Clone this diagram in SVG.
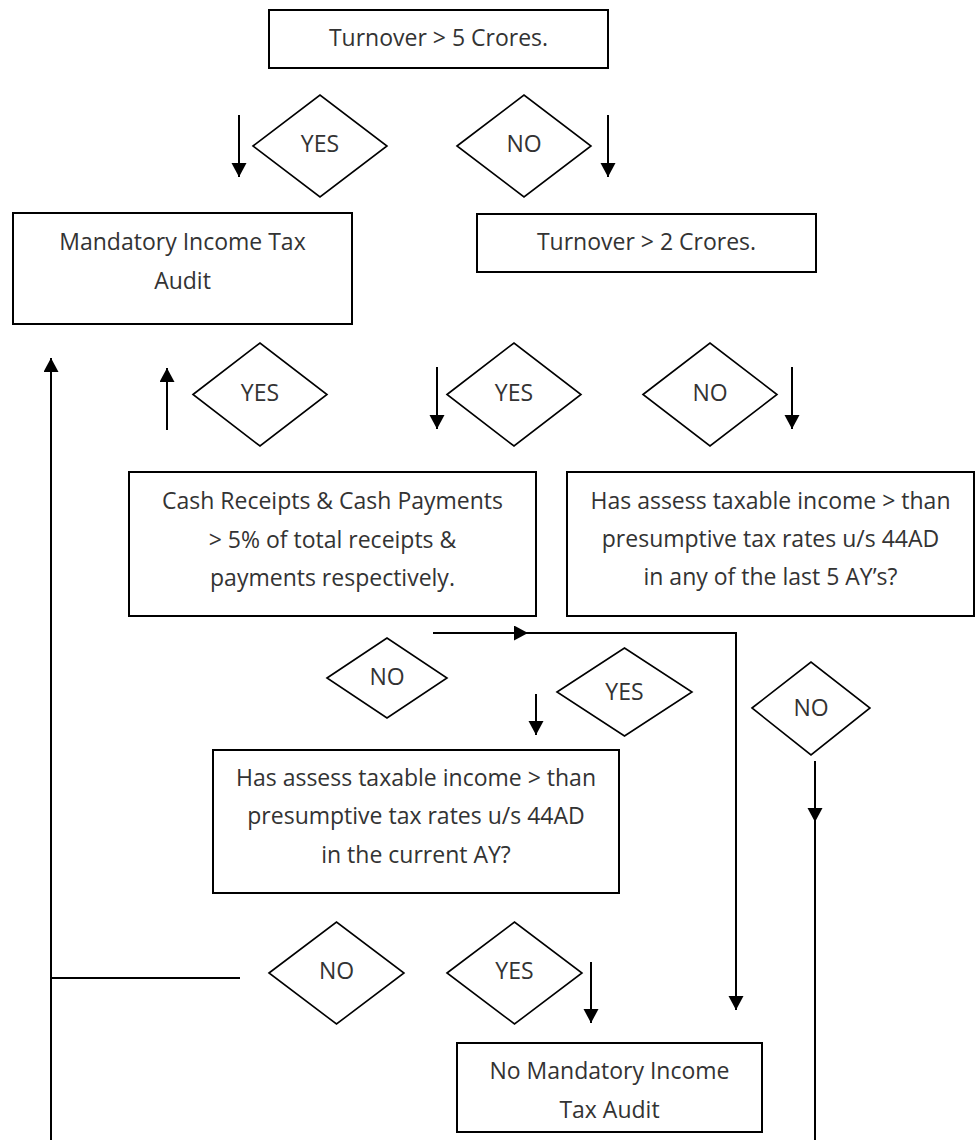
<svg xmlns="http://www.w3.org/2000/svg" width="980" height="1140" viewBox="0 0 980 1140">
<style>
.box{fill:#fff;stroke:#000;stroke-width:2}
.dia{fill:#fff;stroke:#000;stroke-width:1.6}
.t{font-family:"Open Sans","Liberation Sans",sans-serif;font-size:23px;fill:#333;text-anchor:middle}
.c{fill:none;stroke:#000;stroke-width:2}
</style>
<defs>
<marker id="ah" markerUnits="userSpaceOnUse" markerWidth="16" markerHeight="16" refX="14" refY="7.5" orient="auto" viewBox="0 0 16 16">
<path d="M0,0 L14,7.5 L0,15 z" fill="#000"/>
</marker>
</defs>
<rect width="980" height="1140" fill="#fff"/>

<g id="connectors">
<line class="c" x1="239" y1="115" x2="239" y2="177" marker-end="url(#ah)"/>
<line class="c" x1="608" y1="115" x2="608" y2="177" marker-end="url(#ah)"/>
<line class="c" x1="167" y1="430" x2="167" y2="368" marker-end="url(#ah)"/>
<line class="c" x1="437" y1="367" x2="437" y2="429" marker-end="url(#ah)"/>
<line class="c" x1="792" y1="367" x2="792" y2="429" marker-end="url(#ah)"/>
<line class="c" x1="51" y1="1140" x2="51" y2="358" marker-end="url(#ah)"/>
<line class="c" x1="51" y1="978" x2="240" y2="978"/>
<line class="c" x1="433" y1="633" x2="528" y2="633" marker-end="url(#ah)"/>
<polyline class="c" points="526,633 736,633 736,1010" marker-end="url(#ah)"/>
<line class="c" x1="536" y1="694" x2="536" y2="735" marker-end="url(#ah)"/>
<line class="c" x1="815" y1="761" x2="815" y2="822" marker-end="url(#ah)"/>
<line class="c" x1="815" y1="820" x2="815" y2="1140"/>
<line class="c" x1="591" y1="962" x2="591" y2="1023" marker-end="url(#ah)"/>
</g>

<g id="n_turnover5">
<rect class="box" x="269" y="10" width="339" height="58"/>
<text class="t" x="438.5" y="46">Turnover &gt; 5 Crores.</text>
</g>
<g id="d_yes1">
<polygon class="dia" points="253,146 320,95 387,146 320,197"/>
<text class="t" x="320" y="152">YES</text>
</g>
<g id="d_no1">
<polygon class="dia" points="457,146 524,95 591,146 524,197"/>
<text class="t" x="524" y="152">NO</text>
</g>
<g id="n_mandatory">
<rect class="box" x="13" y="213" width="339" height="111"/>
<text class="t" x="182.5" y="250">Mandatory Income Tax</text>
<text class="t" x="182.5" y="289">Audit</text>
</g>
<g id="n_turnover2">
<rect class="box" x="477" y="214" width="339" height="58"/>
<text class="t" x="646.5" y="250">Turnover &gt; 2 Crores.</text>
</g>
<g id="d_yes2a">
<polygon class="dia" points="193,394.5 260,343 327,394.5 260,446"/>
<text class="t" x="260" y="401">YES</text>
</g>
<g id="d_yes2b">
<polygon class="dia" points="447,394.5 514,343 581,394.5 514,446"/>
<text class="t" x="514" y="401">YES</text>
</g>
<g id="d_no2">
<polygon class="dia" points="643,394.5 710,343 777,394.5 710,446"/>
<text class="t" x="710" y="401">NO</text>
</g>
<g id="n_cash">
<rect class="box" x="129" y="472" width="407" height="144"/>
<text class="t" x="332.5" y="509">Cash Receipts &amp; Cash Payments</text>
<text class="t" x="332.5" y="548">&gt; 5% of total receipts &amp;</text>
<text class="t" x="332.5" y="586">payments respectively.</text>
</g>
<g id="n_last5">
<rect class="box" x="567" y="472" width="407" height="144"/>
<text class="t" x="770.5" y="509">Has assess taxable income &gt; than</text>
<text class="t" x="770.5" y="547">presumptive tax rates u/s 44AD</text>
<text class="t" x="770.5" y="585">in any of the last 5 AY’s?</text>
</g>
<g id="d_no3a">
<polygon class="dia" points="327,678 387,638 447,678 387,718"/>
<text class="t" x="387" y="685">NO</text>
</g>
<g id="d_yes3">
<polygon class="dia" points="557,692 624.5,648 692,692 624.5,736"/>
<text class="t" x="624.5" y="700">YES</text>
</g>
<g id="d_no3b">
<polygon class="dia" points="752,708 811,662 870,708 811,755"/>
<text class="t" x="811" y="716">NO</text>
</g>
<g id="n_current">
<rect class="box" x="213" y="750" width="406" height="143"/>
<text class="t" x="416" y="786">Has assess taxable income &gt; than</text>
<text class="t" x="416" y="824">presumptive tax rates u/s 44AD</text>
<text class="t" x="416" y="863">in the current AY?</text>
</g>
<g id="d_no4">
<polygon class="dia" points="269,973 336.5,922 404,973 336.5,1024"/>
<text class="t" x="336.5" y="979">NO</text>
</g>
<g id="d_yes4">
<polygon class="dia" points="447,973 514.5,922 582,973 514.5,1024"/>
<text class="t" x="514.5" y="979">YES</text>
</g>
<g id="n_nomandatory">
<rect class="box" x="457" y="1043" width="305" height="89"/>
<text class="t" x="609.5" y="1079">No Mandatory Income</text>
<text class="t" x="609.5" y="1118">Tax Audit</text>
</g>
</svg>
